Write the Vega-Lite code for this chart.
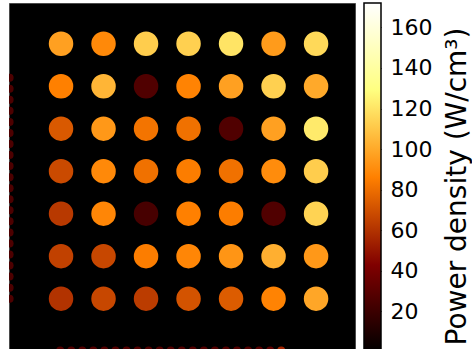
{
  "$schema": "https://vega.github.io/schema/vega-lite/v6.json",
  "background": "white",
  "padding": {"left": 8, "top": 2, "right": 0, "bottom": 0},
  "config": {
    "font": "DejaVu Sans",
    "view": {"stroke": null},
    "concat": {"spacing": 7}
  },
  "datasets": {
    "wells": [
      {"x": 5, "y": 5, "p": 97}, {"x": 10, "y": 5, "p": 89}, {"x": 15, "y": 5, "p": 112}, {"x": 20, "y": 5, "p": 113}, {"x": 25, "y": 5, "p": 120}, {"x": 30, "y": 5, "p": 95}, {"x": 35, "y": 5, "p": 116},
      {"x": 5, "y": 10, "p": 86}, {"x": 10, "y": 10, "p": 104}, {"x": 15, "y": 10, "p": 27}, {"x": 20, "y": 10, "p": 87}, {"x": 25, "y": 10, "p": 97}, {"x": 30, "y": 10, "p": 113}, {"x": 35, "y": 10, "p": 100},
      {"x": 5, "y": 15, "p": 73}, {"x": 10, "y": 15, "p": 94}, {"x": 15, "y": 15, "p": 82}, {"x": 20, "y": 15, "p": 81}, {"x": 25, "y": 15, "p": 27}, {"x": 30, "y": 15, "p": 97}, {"x": 35, "y": 15, "p": 122},
      {"x": 5, "y": 20, "p": 68}, {"x": 10, "y": 20, "p": 89}, {"x": 15, "y": 20, "p": 81}, {"x": 20, "y": 20, "p": 85}, {"x": 25, "y": 20, "p": 81}, {"x": 30, "y": 20, "p": 90}, {"x": 35, "y": 20, "p": 112},
      {"x": 5, "y": 25, "p": 62}, {"x": 10, "y": 25, "p": 88}, {"x": 15, "y": 25, "p": 24}, {"x": 20, "y": 25, "p": 86}, {"x": 25, "y": 25, "p": 85}, {"x": 30, "y": 25, "p": 27}, {"x": 35, "y": 25, "p": 114},
      {"x": 5, "y": 30, "p": 65}, {"x": 10, "y": 30, "p": 67}, {"x": 15, "y": 30, "p": 85}, {"x": 20, "y": 30, "p": 88}, {"x": 25, "y": 30, "p": 93}, {"x": 30, "y": 30, "p": 102}, {"x": 35, "y": 30, "p": 94},
      {"x": 5, "y": 35, "p": 60}, {"x": 10, "y": 35, "p": 67}, {"x": 15, "y": 35, "p": 63}, {"x": 20, "y": 35, "p": 71}, {"x": 25, "y": 35, "p": 74}, {"x": 30, "y": 35, "p": 87}, {"x": 35, "y": 35, "p": 99}
    ],
    "edge": [
      {"x": -1.05, "y": 9.0, "p": 26}, {"x": -1.05, "y": 10.3, "p": 26}, {"x": -1.05, "y": 11.6, "p": 26}, {"x": -1.05, "y": 12.9, "p": 26}, {"x": -1.05, "y": 14.2, "p": 26}, {"x": -1.05, "y": 15.5, "p": 26}, {"x": -1.05, "y": 16.8, "p": 26},
      {"x": -1.05, "y": 18.1, "p": 26}, {"x": -1.05, "y": 19.4, "p": 26}, {"x": -1.05, "y": 20.7, "p": 26}, {"x": -1.05, "y": 22.0, "p": 26}, {"x": -1.05, "y": 23.3, "p": 26}, {"x": -1.05, "y": 24.6, "p": 26}, {"x": -1.05, "y": 25.9, "p": 26},
      {"x": -1.05, "y": 27.2, "p": 26}, {"x": -1.05, "y": 28.5, "p": 26}, {"x": -1.05, "y": 29.8, "p": 26}, {"x": -1.05, "y": 31.1, "p": 26}, {"x": -1.05, "y": 32.4, "p": 26}, {"x": -1.05, "y": 33.7, "p": 26}, {"x": -1.05, "y": 35.0, "p": 26},
      {"x": 4.9, "y": 41.1, "p": 28}, {"x": 6.2, "y": 41.1, "p": 28}, {"x": 7.5, "y": 41.1, "p": 28}, {"x": 8.8, "y": 41.1, "p": 28}, {"x": 10.1, "y": 41.1, "p": 28}, {"x": 11.4, "y": 41.1, "p": 28}, {"x": 12.7, "y": 41.1, "p": 28},
      {"x": 14.0, "y": 41.1, "p": 28}, {"x": 15.3, "y": 41.1, "p": 28}, {"x": 16.6, "y": 41.1, "p": 28}, {"x": 17.9, "y": 41.1, "p": 28}, {"x": 19.2, "y": 41.1, "p": 28}, {"x": 20.5, "y": 41.1, "p": 28}, {"x": 21.8, "y": 41.1, "p": 28},
      {"x": 23.1, "y": 41.1, "p": 28}, {"x": 24.4, "y": 41.1, "p": 28}, {"x": 25.7, "y": 41.1, "p": 28}, {"x": 27.0, "y": 41.1, "p": 28}, {"x": 28.3, "y": 41.1, "p": 30}, {"x": 29.6, "y": 41.1, "p": 32}, {"x": 30.9, "y": 41.1, "p": 55}
    ],
    "bar": [{"lo": 0, "hi": 172}]
  },
  "hconcat": [
    {
      "width": 346,
      "height": 349,
      "view": {"fill": "black", "stroke": "#4a4a4a", "strokeWidth": 1},
      "encoding": {
        "x": {"field": "x", "type": "quantitative", "scale": {"domain": [-1.12, 39.58], "nice": false, "zero": false}, "axis": null},
        "y": {"field": "y", "type": "quantitative", "scale": {"domain": [0.21, 41.27], "nice": false, "zero": false, "reverse": true}, "axis": null},
        "color": {
          "field": "p", "type": "quantitative", "legend": null,
          "scale": {"type": "linear", "domain": [0, 43, 86, 129, 172], "range": ["#000000", "#800000", "#ff8000", "#ffff80", "#ffffff"], "interpolate": "rgb"}
        }
      },
      "layer": [
        {
          "data": {"name": "edge"},
          "mark": {"type": "circle", "size": 64, "opacity": 1, "clip": true}
        },
        {
          "data": {"name": "wells"},
          "mark": {"type": "circle", "size": 600, "opacity": 1, "clip": true}
        }
      ]
    },
    {
      "width": 17,
      "height": 349,
      "data": {"name": "bar"},
      "mark": {
        "type": "rect",
        "stroke": "black",
        "strokeWidth": 1.5,
        "fill": {
          "gradient": "linear", "x1": 0, "y1": 0, "x2": 0, "y2": 1,
          "stops": [
            {"offset": 0, "color": "#ffffff"},
            {"offset": 0.25, "color": "#ffff80"},
            {"offset": 0.5, "color": "#ff8000"},
            {"offset": 0.75, "color": "#800000"},
            {"offset": 1, "color": "#000000"}
          ]
        }
      },
      "encoding": {
        "y": {
          "field": "lo", "type": "quantitative",
          "scale": {"domain": [0, 172], "nice": false, "zero": false},
          "axis": {
            "orient": "right",
            "values": [20, 40, 60, 80, 100, 120, 140, 160],
            "domain": false,
            "grid": false,
            "tickSize": -5,
            "tickColor": "black",
            "tickWidth": 1,
            "labelPadding": 14,
            "labelFont": "DejaVu Sans",
            "labelFontSize": 22,
            "labelColor": "black",
            "title": "Power density (W/cm³)",
            "titleFont": "DejaVu Sans",
            "titleFontSize": 28,
            "titleFontWeight": "normal",
            "titleColor": "black",
            "titleAngle": 270,
            "titleY": 183,
            "titlePadding": 40
          }
        },
        "y2": {"field": "hi"}
      }
    }
  ]
}
